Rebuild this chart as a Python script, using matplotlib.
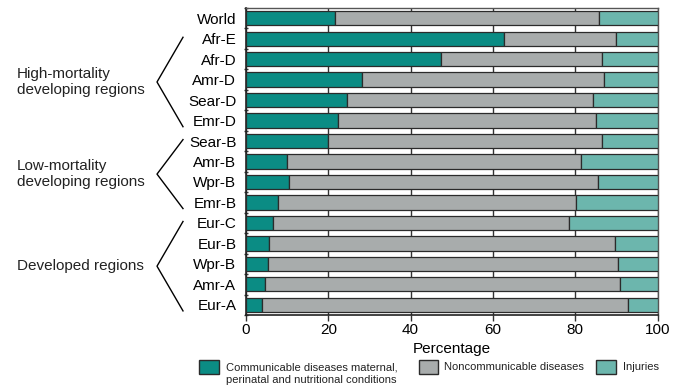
import numpy as np
import matplotlib
matplotlib.use("Agg")
import matplotlib.pyplot as plt
from matplotlib.patches import Rectangle
import matplotlib.transforms as mtransforms

plt.rcParams['font.family'] = ['Liberation Sans', 'DejaVu Sans']

regions = ["World", "Afr-E", "Afr-D", "Amr-D", "Sear-D", "Emr-D",
           "Sear-B", "Amr-B", "Wpr-B", "Emr-B",
           "Eur-C", "Eur-B", "Wpr-B", "Amr-A", "Eur-A"]
communicable = [21.7, 62.8, 47.4, 28.2, 24.6, 22.4, 19.9, 10.0, 10.5, 7.7, 6.6, 5.7, 5.3, 4.6, 4.0]
noncommunicable_end = [85.9, 90.0, 86.6, 87.1, 84.4, 85.1, 86.6, 81.5, 85.6, 80.3, 78.5, 89.6, 90.4, 90.8, 92.8]
noncommunicable = [e - c for e, c in zip(noncommunicable_end, communicable)]
injuries = [100 - e for e in noncommunicable_end]

series_names = ["Communicable diseases maternal,\nperinatal and nutritional conditions",
                "Noncommunicable diseases", "Injuries"]
colors = ["#0b8c84", "#a8acac", "#6cb6ad"]
edge = "#2b2b2b"

groups = [("High-mortality\ndeveloping regions", 1, 5),
          ("Low-mortality\ndeveloping regions", 6, 9),
          ("Developed regions", 10, 14)]

W, H = 678, 389
fig = plt.figure(figsize=(W / 100, H / 100), dpi=100)
fig.patch.set_facecolor("white")

def fx(px):
    return px / W

def fy(py):
    return 1 - py / H

ax = fig.add_axes([fx(246), fy(315), fx(657.5) - fx(246), fy(8) - fy(315)])

y = np.arange(len(regions))
h = 0.70
ax.barh(y, communicable, height=h, color=colors[0], edgecolor=edge, linewidth=0.9, zorder=3)
ax.barh(y, noncommunicable, left=communicable, height=h, color=colors[1], edgecolor=edge, linewidth=0.9, zorder=3)
ax.barh(y, injuries, left=noncommunicable_end, height=h, color=colors[2], edgecolor=edge, linewidth=0.9, zorder=3)

ax.set_xlim(0, 100)
ax.set_ylim(len(regions) - 0.5, -0.5)
ax.set_xticks([0, 20, 40, 60, 80, 100])
ax.set_yticks(y)
ax.set_yticklabels(regions, fontsize=11)
ax.set_yticks(np.arange(len(regions) + 1) - 0.5, minor=True)
ax.tick_params(axis='y', which='major', length=0, pad=7)
ax.tick_params(axis='y', which='minor', length=3, width=1, direction='inout', color='#333333')
ax.tick_params(axis='x', labelsize=11, length=4, width=1, direction='out', pad=2, color='#333333')
ax.xaxis.grid(True, color='#333333', linewidth=1.0, zorder=0)
ax.set_axisbelow(True)
for s in ['left', 'bottom']:
    ax.spines[s].set_color('#222222')
    ax.spines[s].set_linewidth(1.2)
for s in ['top', 'right']:
    ax.spines[s].set_color('#555555')
    ax.spines[s].set_linewidth(1.0)

ax.set_xlabel("Percentage", fontsize=11, labelpad=3)

# group braces
trans = mtransforms.blended_transform_factory(ax.transAxes, ax.transData)
x_end = (183 - 246) / 411.5
x_pt = (157 - 246) / 411.5
for label, a, b in groups:
    top = a - 0.07
    bot = b + 0.3
    mid = (top + bot) / 2
    ax.plot([x_end, x_pt, x_end], [top, mid, bot], color='black', lw=1.0,
            transform=trans, clip_on=False)
    ax.text(fx(17) / ((657.5 - 246) / W) - 246 / 411.5, mid, label, transform=trans,
            ha='left', va='center', fontsize=11, color='#222222')

# legend
leg_items = [(199, 219, 226, 374), (419, 438, 444, 367), (596, 616, 623, 367)]
for (x0, x1, tx, ty), name, c in zip(leg_items, series_names, colors):
    fig.add_artist(Rectangle((fx(x0), fy(374)), fx(x1) - fx(x0), fy(360) - fy(374),
                             transform=fig.transFigure, facecolor=c, edgecolor=edge, linewidth=1.0))
    fig.text(fx(tx), fy(ty), name, ha='left', va='center', fontsize=8, color='#222222',
             linespacing=1.3)

fig.savefig("out.png", dpi=100, facecolor="white")
